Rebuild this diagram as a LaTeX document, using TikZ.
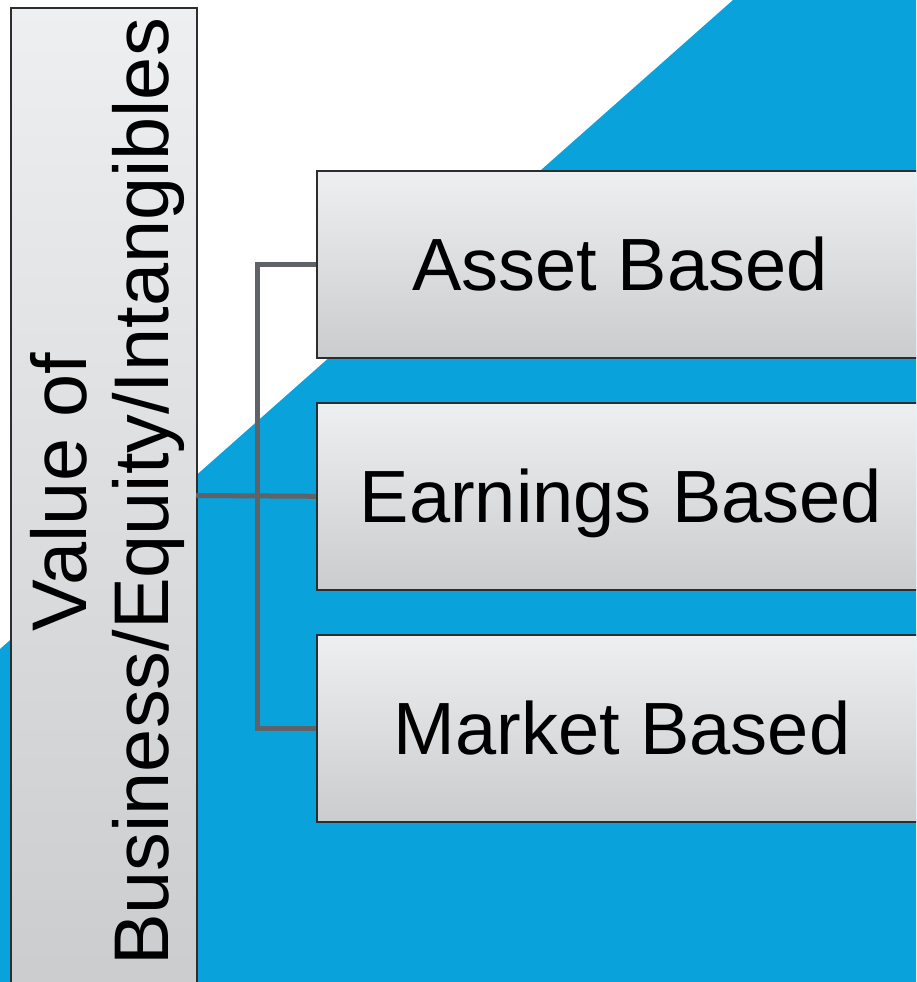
\documentclass[tikz,border=0pt]{standalone}
\usepackage{fontspec}
\setmainfont{Liberation Sans}
\definecolor{bgblue}{RGB}{10,162,218}
\definecolor{conn}{RGB}{95,98,102}
\definecolor{boxtop}{RGB}{238,239,241}
\definecolor{boxbot}{RGB}{203,204,206}
\definecolor{edge}{RGB}{45,45,48}
\tikzset{
  gbox/.style={draw=edge, line width=1.6pt, top color=boxtop, bottom color=boxbot,
    rectangle, inner sep=0pt},
  lbl/.style={font=\fontsize{74}{82}\selectfont, text=black, inner sep=0pt},
  vlbl/.style={font=\fontsize{77.5}{82}\selectfont, text=black, inner sep=0pt},
  link/.style={draw=conn, line width=5pt, line cap=butt, line join=miter}
}
\begin{document}
\begin{tikzpicture}[x=1pt,y=-1pt]
\useasboundingbox (0,0) rectangle (916,982);
\clip (0,0) rectangle (916,982);
% blue background
\fill[bgblue] (733,0) -- (916,0) -- (916,982) -- (0,982) -- (0,649) -- cycle;
% left box
\node[gbox, minimum width=186pt, minimum height=990pt, anchor=north west] (val) at (10,7) {};
\node[vlbl, rotate=90, align=center] (valtext) at (107,492) {Value of\\Business/Equity/Intangibles};
% right boxes
\node[gbox, minimum width=620pt, minimum height=187pt, anchor=north west] (asset) at (316,170) {};
\node[gbox, minimum width=620pt, minimum height=187pt, anchor=north west] (earn) at (316,402) {};
\node[gbox, minimum width=620pt, minimum height=187pt, anchor=north west] (market) at (316,634) {};
\node[lbl, anchor=base] (assett) at (620,290) {Asset Based};
\node[lbl, anchor=base] (earnt) at (621,522) {Earnings Based};
\node[lbl, anchor=base] (markett) at (622,754) {Market Based};
% connectors
\coordinate (vo) at (196,495.5);
\coordinate (j) at (257,495.5);
\draw[link] (vo) -- (earn.west);
\draw[link] (asset.west) -| (j) |- (market.west);
\end{tikzpicture}
\end{document}
